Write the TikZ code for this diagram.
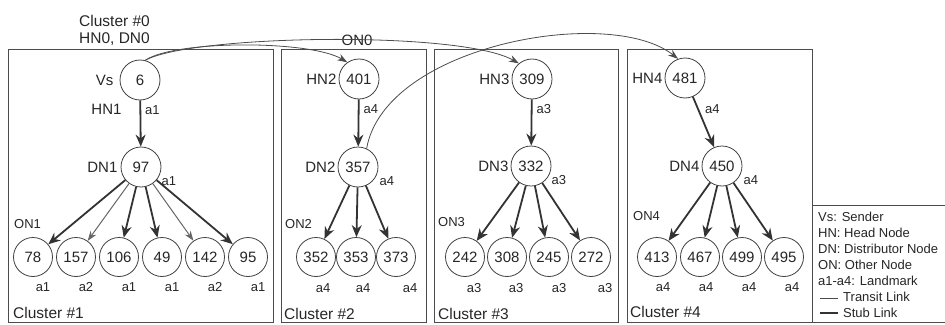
\documentclass[tikz,border=0pt]{standalone}
\usepackage{fontspec}
\setmainfont{Liberation Sans}
\usetikzlibrary{positioning,arrows.meta}

\tikzset{
  host/.style={circle, draw=black!75, line width=0.8pt, minimum size=40pt,
    inner sep=0pt, text=black!85, font=\fontsize{15}{15}\selectfont},
  leaf/.style={host, minimum size=39pt},
  role/.style={inner sep=1pt, text=black!85, font=\fontsize{15}{15}\selectfont},
  lmk/.style={inner sep=1pt, text=black!85, font=\fontsize{13}{13}\selectfont},
  clabel/.style={inner sep=0pt, text=black!85, font=\fontsize{15.5}{15.5}\selectfont},
  legendtxt/.style={inner sep=0pt, text=black!85, font=\fontsize{13}{13}\selectfont},
  cluster/.style={draw=black!70, line width=0.8pt},
  stub/.style={draw=black!80, line width=1.8pt, -{Stealth[length=12pt,width=10pt]}},
  weak/.style={draw=black!60, line width=1pt, -{Stealth[length=10pt,width=7pt]}},
  transit/.style={draw=black!70, line width=0.8pt, -{Stealth[length=10pt,width=7pt]}},
}

\begin{document}
\begin{tikzpicture}[x=1pt, y=-1pt]
    \useasboundingbox (0,0) rectangle (945,324);

    % cluster frames
    \draw[cluster] (8,49) rectangle (273,322);
    \draw[cluster] (281,49) rectangle (426,322);
    \draw[cluster] (434,49) rectangle (618,322);
    \draw[cluster] (627,49) rectangle (812,322);
    \draw[cluster] (812,205) rectangle (950,322);

    \node[clabel, anchor=west] (c0) at (79,21) {Cluster \#0};
    \node[clabel, anchor=west] (c0hd) at (79,39) {HN0, DN0};
    \node[clabel, anchor=west] (c1) at (13,313) {Cluster \#1};
    \node[clabel, anchor=west] (c2) at (284,314) {Cluster \#2};
    \node[clabel, anchor=west] (c3) at (438,314) {Cluster \#3};
    \node[clabel, anchor=west] (c4) at (630,312) {Cluster \#4};

    % cluster 1
    \node[host] (n6) at (140,80) {6};
    \node[host] (n97) at (141,167) {97};
    \node[leaf] (n78) at (33,257) {78};
    \node[leaf] (n157) at (76,257) {157};
    \node[leaf] (n106) at (119,257) {106};
    \node[leaf] (n49) at (162,257) {49};
    \node[leaf] (n142) at (205,257) {142};
    \node[leaf] (n95) at (248,257) {95};

    % cluster 2
    \node[host] (n401) at (359,79) {401};
    \node[host] (n357) at (358,167) {357};
    \node[leaf] (n352) at (316,257) {352};
    \node[leaf] (n353) at (356,257) {353};
    \node[leaf] (n373) at (396,257) {373};

    % cluster 3
    \node[host] (n309) at (532,79) {309};
    \node[host] (n332) at (531,166) {332};
    \node[leaf] (n242) at (465,257) {242};
    \node[leaf] (n308) at (507,257) {308};
    \node[leaf] (n245) at (549,257) {245};
    \node[leaf] (n272) at (591,257) {272};

    % cluster 4
    \node[host] (n481) at (685,78) {481};
    \node[host] (n450) at (722,166) {450};
    \node[leaf] (n413) at (657,257) {413};
    \node[leaf] (n467) at (700,257) {467};
    \node[leaf] (n499) at (742,257) {499};
    \node[leaf] (n495) at (784,257) {495};

    % roles
    \node[role, left=5pt of n6] (vs) {Vs};
    \node[role, left=2pt of n97] (dn1) {DN1};
    \node[role, left=1pt of n401] (hn2) {HN2};
    \node[role, left=1pt of n357] (dn2) {DN2};
    \node[role, left=1pt of n309] (hn3) {HN3};
    \node[role, left=1pt of n332] (dn3) {DN3};
    \node[role, left=1pt of n481] (hn4) {HN4};
    \node[role, left=1pt of n450] (dn4) {DN4};
    \node[lmk, anchor=west] (on1) at (13,224) {ON1};
    \node[lmk, anchor=west] (on2) at (284,224) {ON2};
    \node[lmk, anchor=west] (on3) at (437,222) {ON3};
    \node[lmk, anchor=west] (on4) at (632,216) {ON4};
    \node[role] (on0) at (357,40) {ON0};

    % stub links
    \draw[stub] (n6) -- node[pos=0.2, lmk, right=3pt] (l6) {a1}
        node[pos=0.2, role, left=17pt] (hn1) {HN1} (n97);
    \draw[stub] (n401) -- node[pos=0.2, lmk, right=3pt] (l401) {a4} (n357);
    \draw[stub] (n309) -- node[pos=0.2, lmk, right=3pt] (l309) {a3} (n332);
    \draw[stub] (n481) -- node[pos=0.25, lmk, right=5pt] (l481) {a4} (n450);

    \draw[stub] (n97) -- (n78);
    \draw[weak] (n97) -- (n157);
    \draw[stub] (n97) -- (n106);
    \draw[stub] (n97) -- (n49);
    \draw[weak] (n97) -- (n142);
    \draw[stub] (n97) -- (n95);

    \draw[stub] (n357) -- (n352);
    \draw[stub] (n357) -- (n353);
    \draw[stub] (n357) -- (n373);

    \draw[stub] (n332) -- (n242);
    \draw[stub] (n332) -- (n308);
    \draw[stub] (n332) -- (n245);
    \draw[stub] (n332) -- (n272);

    \draw[stub] (n450) -- (n413);
    \draw[stub] (n450) -- (n467);
    \draw[stub] (n450) -- (n499);
    \draw[stub] (n450) -- (n495);

    % transit links
    \draw[transit] (n6.75) .. controls (190,35) and (460,30) .. (n309.130);
    \draw[transit] (n6.75) .. controls (175,40) and (310,40) .. (n401.125);
    \draw[transit] (n357.65) .. controls (385,45) and (610,5) .. (n481.110);

    % landmarks
    \node[lmk, anchor=west] (l97) at ([xshift=5pt]n97.south east) {a1};
    \node[lmk, anchor=west] (l357) at ([xshift=6pt]n357.south east) {a4};
    \node[lmk, anchor=west] (l332) at ([xshift=5pt]n332.south east) {a3};
    \node[lmk, anchor=west] (l450) at ([xshift=6pt]n450.south east) {a4};

    \node[lmk] (l78) at ([shift={(10,10)}]n78.south) {a1};
    \node[lmk] (l157) at ([shift={(10,10)}]n157.south) {a2};
    \node[lmk] (l106) at ([shift={(10,10)}]n106.south) {a1};
    \node[lmk] (l49) at ([shift={(10,10)}]n49.south) {a1};
    \node[lmk] (l142) at ([shift={(10,10)}]n142.south) {a2};
    \node[lmk] (l95) at ([shift={(10,10)}]n95.south) {a1};
    \node[lmk] (l352) at ([shift={(7,11)}]n352.south) {a4};
    \node[lmk] (l353) at ([shift={(7,11)}]n353.south) {a4};
    \node[lmk] (l373) at ([shift={(14,11)}]n373.south) {a4};
    \node[lmk] (l242) at ([shift={(9,11)}]n242.south) {a3};
    \node[lmk] (l308) at ([shift={(9,11)}]n308.south) {a3};
    \node[lmk] (l245) at ([shift={(10,11)}]n245.south) {a3};
    \node[lmk] (l272) at ([shift={(14,11)}]n272.south) {a3};
    \node[lmk] (l413) at ([shift={(6,10)}]n413.south) {a4};
    \node[lmk] (l467) at ([shift={(6,10)}]n467.south) {a4};
    \node[lmk] (l499) at ([shift={(7,10)}]n499.south) {a4};
    \node[lmk] (l495) at ([shift={(8,10)}]n495.south) {a4};

    % legend
    \node[legendtxt, anchor=west] (lgvs) at (818,217) {Vs: Sender};
    \node[legendtxt, anchor=west] (lghn) at (818,233) {HN: Head Node};
    \node[legendtxt, anchor=west] (lgdn) at (818,249) {DN: Distributor Node};
    \node[legendtxt, anchor=west] (lgon) at (818,265) {ON: Other Node};
    \node[legendtxt, anchor=west] (lglm) at (818,281) {a1-a4: Landmark};
    \node[legendtxt, anchor=west] (lgtr) at (843,297) {Transit Link};
    \node[legendtxt, anchor=west] (lgst) at (843,313) {Stub Link};
    \coordinate (trs) at (820,298);
    \coordinate (sts) at (820,313);
    \draw[draw=black!70, line width=0.8pt] (trs) -- ++(18,0);
    \draw[draw=black!80, line width=1.8pt] (sts) -- ++(18,0);
\end{tikzpicture}
\end{document}
